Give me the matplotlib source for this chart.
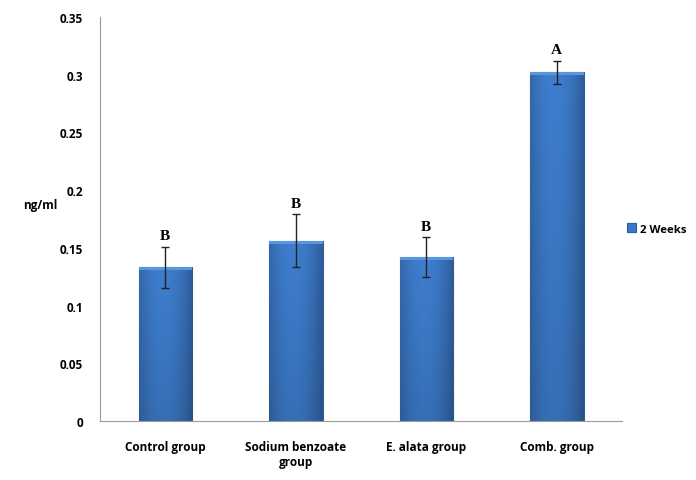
import numpy as np
import matplotlib
matplotlib.use("Agg")
import matplotlib.pyplot as plt

# ---------------- DATA ----------------
groups = ["Control group", "Sodium benzoate\ngroup", "E. alata group", "Comb. group"]
values = [0.133, 0.156, 0.142, 0.302]
errors = [0.018, 0.023, 0.017, 0.010]
letters = ["B", "B", "B", "A"]
series_name = "2 Weeks"

# ---------------- FIGURE ----------------
fig = plt.figure(figsize=(6.96, 4.81), dpi=100)
ax = fig.add_axes([0.1437, 0.1227, 0.750, 0.840])

x = np.arange(len(groups))
width = 0.41
bars = ax.bar(x, values, width=width, color="#3b78c6", edgecolor="#2d5f9e",
              linewidth=0.8, label=series_name, zorder=2)

# soft shading: lighter in the middle, darker at sides and bottom
gx = np.linspace(0, 1, 64)
gy = np.linspace(0, 1, 64)
side = 1 - 0.22 * np.abs(gx - 0.45) ** 2 * 4
vert = 0.88 + 0.12 * gy
base = np.array([0x3e, 0x7e, 0xcf]) / 255
img = base[None, None, :] * (vert[:, None] * side[None, :])[:, :, None]
img = np.clip(img, 0, 1)
for b in bars:
    x0, w, h = b.get_x(), b.get_width(), b.get_height()
    im = ax.imshow(img, extent=[x0, x0 + w, 0, h], aspect="auto", zorder=2.1,
                   origin="lower", interpolation="bilinear")
    im.set_clip_path(b)
    # light bevel along the top
    ax.fill_between([x0, x0 + w], h - 0.0025, h, color="#5b95dc", zorder=2.2,
                    linewidth=0)

ax.errorbar(x, values, yerr=errors, fmt="none", ecolor="#222222",
            elinewidth=1.0, capsize=3, capthick=1.0, zorder=3)

for xi, v, e, lt in zip(x, values, errors, letters):
    ax.text(xi, v + e + 0.004, lt, ha="center", va="bottom",
            family="Liberation Serif", fontweight="bold", fontsize=11)

ax.set_xlim(-0.5, len(groups) - 0.5)
ax.set_ylim(0, 0.35)
ax.set_yticks(np.arange(0, 0.351, 0.05))
ax.set_yticklabels(["0", "0.05", "0.1", "0.15", "0.2", "0.25", "0.3", "0.35"])
ax.set_xticks(x)
ax.set_xticklabels(groups)
for lab in ax.get_xticklabels() + ax.get_yticklabels():
    lab.set_family("Open Sans")
    lab.set_fontweight("bold")
    lab.set_fontsize(8.5)
ax.tick_params(axis="x", length=0, pad=14)
ax.tick_params(axis="y", length=0, pad=12)

for s in ["top", "right"]:
    ax.spines[s].set_visible(False)
ax.spines["left"].set_color("#9a9a9a")
ax.spines["bottom"].set_color("#9a9a9a")

fig.text(0.058, 0.572, "ng/ml", family="Open Sans", fontweight="bold",
         fontsize=8.5, ha="center", va="center")

ax.legend(loc="center left", bbox_to_anchor=(0.99, 0.475), frameon=False,
          prop={"family": "Open Sans", "weight": "bold", "size": 8.2},
          handlelength=0.8, handleheight=0.8, handletextpad=0.3)

fig.savefig("out.png", dpi=100)
